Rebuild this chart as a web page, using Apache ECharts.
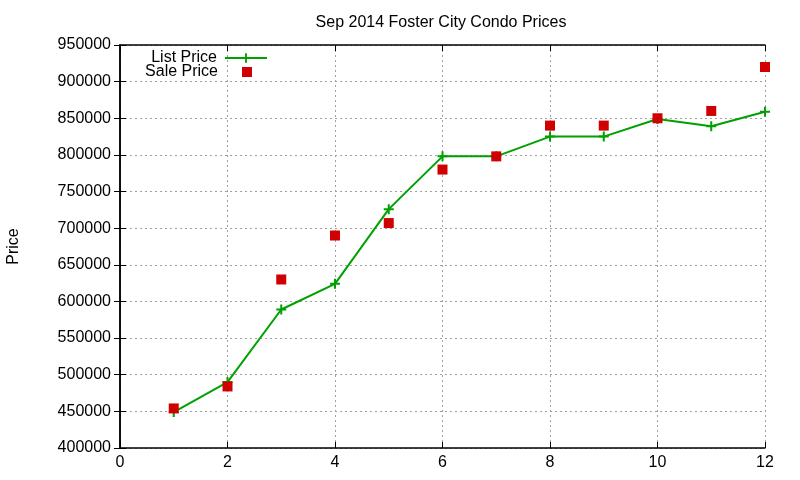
<!DOCTYPE html>
<html>
<head>
<meta charset="utf-8">
<script src="https://cdn.jsdelivr.net/npm/echarts@6/dist/echarts.min.js"></script>
<style>
  html, body { margin: 0; padding: 0; background: #fff; }
  #main { width: 800px; height: 480px; }
</style>
</head>
<body>
<div id="main"></div>
<script>
// data
var months = [1, 2, 3, 4, 5, 6, 7, 8, 9, 10, 11, 12];
var listPrice = [449000, 490000, 589000, 624000, 726000, 798000, 798000, 825000, 825000, 849000, 839000, 859000];
var salePrice = [454000, 484000, 630000, 690000, 707000, 780000, 798000, 840000, 840000, 850000, 860000, 920000];

var font = 'Liberation Sans, Arial, sans-serif';
var green = '#00a000';
var red = '#d00000';
var plus = 'path://M4,0 H6 V4 H10 V6 H6 V10 H4 V6 H0 V4 H4 Z';

function pairs(ys){
  return months.map(function(m, i){ return [m, ys[i]]; });
}

var myChart = echarts.init(document.getElementById('main'));

var tickStyle = { inside: true, length: 6, lineStyle: { color: '#000', width: 1 } };
var gridLine = { show: true, lineStyle: { color: '#a0a0a0', type: [2, 3], width: 1 } };

option = {
  animation: false,
  backgroundColor: '#fff',
  title: {
    text: 'Sep 2014 Foster City Condo Prices',
    left: 436,
    textAlign: 'center',
    top: 10,
    textStyle: { fontFamily: font, fontSize: 16, fontWeight: 'normal', color: '#000' }
  },
  grid: { left: 120, right: 35, top: 45, bottom: 32, outerBoundsMode: 'none', containLabel: false },
  legend: [
    {
      data: ['List Price'],
      right: 527, top: 45,
      itemWidth: 42, itemHeight: 12, itemGap: 0,
      align: 'right',
      textStyle: { fontFamily: font, fontSize: 16, color: '#000', padding: [0, 3, 0, 0] }
    },
    {
      data: [{ name: 'Sale Price', icon: 'rect' }],
      right: 543, top: 59,
      itemWidth: 10, itemHeight: 10, itemGap: 0,
      align: 'right',
      textStyle: { fontFamily: font, fontSize: 16, color: '#000', padding: [0, 19, 0, 0] }
    }
  ],
  xAxis: [
    {
      type: 'value', min: 0, max: 12, interval: 2,
      axisLine: { lineStyle: { color: '#000', width: 1.5 } },
      axisTick: tickStyle,
      axisLabel: { fontFamily: font, fontSize: 16, color: '#000', margin: 7 },
      splitLine: gridLine
    },
    {
      type: 'value', min: 0, max: 12, interval: 2, position: 'top',
      axisLine: { show: true, lineStyle: { color: '#000', width: 1.5 } },
      axisTick: tickStyle,
      axisLabel: { show: false },
      splitLine: { show: false }
    }
  ],
  yAxis: [
    {
      type: 'value', min: 400000, max: 950000, interval: 50000,
      name: 'Price', nameLocation: 'middle', nameRotate: 90, nameGap: 98,
      nameTextStyle: { fontFamily: font, fontSize: 16, color: '#000' },
      axisLine: { show: true, lineStyle: { color: '#000', width: 1.5 } },
      axisTick: tickStyle,
      axisLabel: { fontFamily: font, fontSize: 16, color: '#000', margin: 9,
        formatter: function(v){ return String(v); } },
      splitLine: gridLine
    },
    {
      type: 'value', min: 400000, max: 950000, interval: 50000, position: 'right',
      axisLine: { show: true, lineStyle: { color: '#000', width: 1.5 } },
      axisTick: tickStyle,
      axisLabel: { show: false },
      splitLine: { show: false }
    }
  ],
  series: [
    {
      name: 'List Price',
      type: 'line',
      data: pairs(listPrice),
      symbol: plus,
      symbolSize: 10,
      showAllSymbol: true,
      itemStyle: { color: green },
      lineStyle: { color: green, width: 2 },
      z: 3
    },
    {
      name: 'Sale Price',
      type: 'scatter',
      data: pairs(salePrice),
      symbol: 'rect',
      symbolSize: 10,
      itemStyle: { color: red, opacity: 1 },
      z: 4
    }
  ]
};

if (option && typeof option === "object") {
  myChart.setOption(option, true);
}
</script>
</body>
</html>
